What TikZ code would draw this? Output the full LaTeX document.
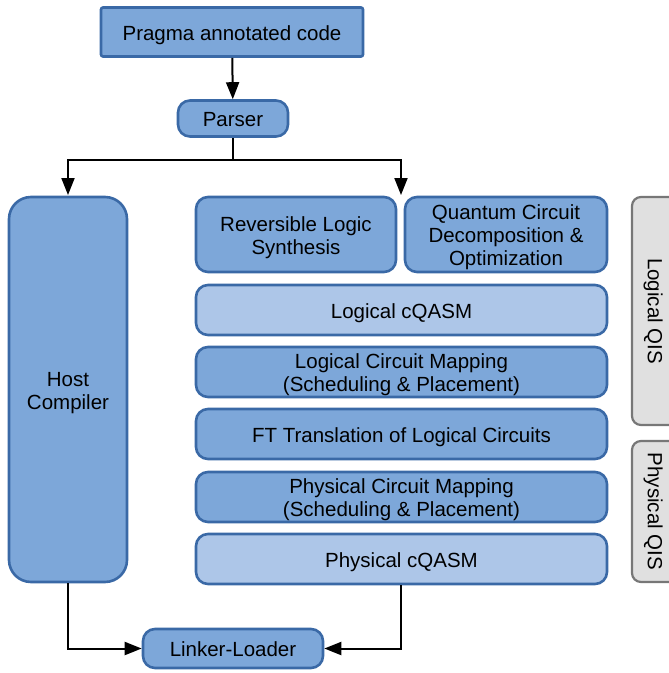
\documentclass[tikz,border=0pt]{standalone}
\usepackage{fontspec}
\setmainfont{Liberation Sans}
\usetikzlibrary{arrows.meta}
\definecolor{boxfill}{HTML}{7DA7D9}
\definecolor{boxlight}{HTML}{ADC6E8}
\definecolor{boxedge}{HTML}{3A69A6}
\definecolor{tabfill}{HTML}{E0E0E0}
\definecolor{tabedge}{HTML}{777777}
% full ascender / descender struts so every label is centred on its line box
\newcommand{\topstrut}{\rule{0pt}{1.0em}}
\newcommand{\botstrut}{\rule[-0.212em]{0pt}{0pt}}
\newcommand{\lbl}[1]{\topstrut#1\botstrut}
\tikzset{
  stage/.style={draw=boxedge, line width=2.6pt, fill=boxfill, rounded corners=12pt,
    align=center, inner sep=0pt, font=\fontsize{20.5}{23}\selectfont},
  light/.style={stage, fill=boxlight},
  tab/.style={draw=tabedge, line width=2.2pt, fill=tabfill, rounded corners=9pt,
    rotate=-90, inner sep=0pt, font=\fontsize{20.5}{23}\selectfont},
  arr/.style={line width=2pt, -{Triangle[length=17pt,width=13pt]}},
  wire/.style={line width=2pt}
}
\begin{document}
\begin{tikzpicture}[x=1pt,y=-1pt]
\useasboundingbox (0,0) rectangle (669,673);
\begin{scope}
\clip (0,0) rectangle (669,673);
% source and parser
\node[stage, rounded corners=2pt, minimum width=262pt, minimum height=49pt] (pragma) at (232,32) {\lbl{Pragma annotated code}};
\node[stage, minimum width=110pt, minimum height=36pt] (parser) at (233,118.5) {\lbl{Parser}};
% host compiler column
\node[stage, rounded corners=22pt, minimum width=118pt, minimum height=385pt] (host) at (68,389.5) {\lbl{Host\\Compiler}};
% quantum compilation stack
\node[stage, minimum width=200pt, minimum height=75pt] (rls) at (296,234.5) {\lbl{Reversible Logic\\Synthesis}};
\node[stage, minimum width=202pt, minimum height=75pt] (qcd) at (506,234.5) {\lbl{Quantum Circuit\\Decomposition \&\\Optimization}};
\node[light, minimum width=411pt, minimum height=50pt] (lcq) at (401.5,310) {\lbl{Logical cQASM}};
\node[stage, minimum width=411pt, minimum height=50pt] (lcm) at (401.5,372) {\lbl{Logical Circuit Mapping\\(Scheduling \& Placement)}};
\node[stage, minimum width=411pt, minimum height=50pt] (ftt) at (401.5,434) {\lbl{FT Translation of Logical Circuits}};
\node[stage, minimum width=411pt, minimum height=50pt] (pcm) at (401.5,497) {\lbl{Physical Circuit Mapping\\(Scheduling \& Placement)}};
\node[light, minimum width=411pt, minimum height=50pt] (pcq) at (401.5,559) {\lbl{Physical cQASM}};
% linker
\node[stage, minimum width=180pt, minimum height=39pt] (linker) at (233,648.5) {\lbl{Linker-Loader}};
% side tabs
\node[tab, minimum width=228pt, minimum height=48pt] (lqis) at (656,311) {\lbl{Logical QIS}};
\node[tab, minimum width=141pt, minimum height=48pt] (pqis) at (656,511.5) {\lbl{Physical QIS}};
\end{scope}
% connectors
\coordinate (split) at (233,160);
\coordinate (qin) at (401,195);
\coordinate (hin) at (68,195);
\draw[arr] (pragma) -- (parser);
\draw[wire] (parser) -- (split);
\draw[arr] (split) -| (hin);
\draw[arr] (split) -| (qin);
\draw[arr] (host.south) |- (linker.west);
\draw[arr] (pcq.south -| qin) |- (linker.east);
\end{tikzpicture}
\end{document}
